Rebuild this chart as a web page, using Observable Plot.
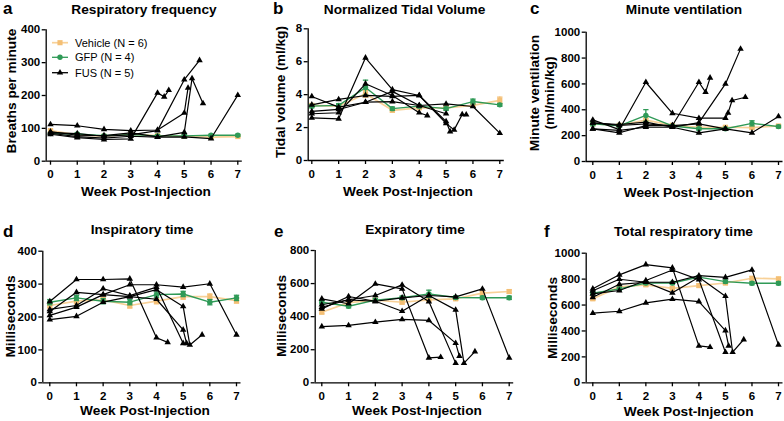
<!DOCTYPE html>
<html><head><meta charset="utf-8">
<script src="https://cdn.jsdelivr.net/npm/d3@7"></script>
<script src="https://cdn.jsdelivr.net/npm/@observablehq/plot@0.6"></script>
<style>
body{margin:0;background:#fff;}
#fig{position:relative;width:784px;height:421px;overflow:hidden;background:#fff;font-family:"Liberation Sans",Arial,sans-serif;}
.panel{position:absolute;}
</style></head><body><div id="fig"></div>
<script>
// ---------- data ----------
const weeks = [0,1,2,3,4,5,6,7];
const legendLabels = ["Vehicle (N = 6)", "GFP (N = 4)", "FUS (N = 5)"];

// a: Respiratory frequency
const ticksA = [0,100,200,300,400];
const vehicleA = [93,80,76,82,78,76,73,75];
const vehicleAErr = [4,3,3,3,3,3,3,3];
const gfpA = [84,83,78,81,77,77,79,79];
const gfpAErr = [3,3,3,3,3,3,3,3];
const fusA = [
  [[0,82],[1,72],[2,66],[3,68],[4,208],[4.25,196],[4.42,216]],
  [[0,87],[1,84],[2,76],[3,80],[4,93],[5,248],[5.57,307]],
  [[0,90],[1,79],[2,78],[3,86],[4,74],[5,88],[5.29,252],[5.7,176]],
  [[0,85],[1,75],[2,70],[3,76],[4,73],[5,74],[6,69],[7,201]],
  [[0,112],[1,108],[2,97],[3,93],[4,95],[5,147],[5.14,223]]
];

// b: Normalized tidal volume
const ticksB = [0,2,4,6,8];
const vehicleB = [3.35,3.3,4.05,3.05,3.2,3.2,3.35,3.65];
const vehicleBErr = [0.1,0.1,0.2,0.1,0.1,0.1,0.1,0.2];
const gfpB = [3.3,3.35,4.43,3.15,3.3,3.15,3.58,3.38];
const gfpBErr = [0.1,0.1,0.45,0.1,0.1,0.1,0.15,0.08];
const fusB = [
  [[0,2.84],[1,2.90],[2,4.66],[3,3.95],[4,2.90],[4.3,2.73]],
  [[0,3.38],[1,3.71],[2,3.95],[3,3.89],[4,3.95],[5,2.25],[5.3,1.86],[5.6,2.8],[5.75,2.78]],
  [[0,2.98],[1,3.10],[2,3.54],[3,3.58],[4,3.34],[5,2.84]],
  [[0,3.89],[1,3.24],[2,3.54],[3,4.2],[4,3.34],[5,3.44],[6,3.28],[7,1.66]],
  [[0,2.59],[1,2.53],[2,6.24],[3,4.31],[4,3.95],[5,2.37],[5.15,1.76]]
];

// c: Minute ventilation
const ticksC = [0,200,400,600,800,1000];
const vehicleC = [292,280,320,280,265,265,262,275];
const vehicleCErr = [10,10,15,10,10,10,10,10];
const gfpC = [291,276,356,275,253,253,295,270];
const gfpCErr = [15,10,45,10,10,10,20,10];
const fusC = [
  [[0,253],[1,222],[2,278],[3,278],[4,613],[4.25,536],[4.42,647]],
  [[0,299],[1,286],[2,304],[3,265],[4,300],[5,600],[5.57,871]],
  [[0,299],[1,280],[2,290],[3,278],[4,291],[5,253]],
  [[0,253],[1,240],[2,265],[3,265],[4,222],[5,253],[6,222],[7,348]],
  [[0,322],[1,247],[2,613],[3,373],[4,335],[5,335],[5.1,376],[5.25,472],[5.75,497]]
];

// d: Inspiratory time
const ticksD = [0,100,200,300,400];
const vehicleD = [235,248,252,235,248,262,262,250];
const vehicleDErr = [8,8,8,8,8,8,8,8];
const gfpD = [245,258,248,245,268,270,245,258];
const gfpDErr = [8,8,8,8,8,8,8,8];
const fusD = [
  [[0,247],[1,314],[2,314],[3,316],[4,137],[4.42,123]],
  [[0,223],[1,235],[2,286],[3,265],[4,291],[5,120]],
  [[0,205],[1,230],[2,268],[3,262],[4,283],[5,232],[5.25,115],[5.71,146]],
  [[0,217],[1,275],[2,268],[3,298],[4,298],[5,291],[6,301],[7,146]],
  [[0,192],[1,202],[2,245],[3,262],[4,254],[5,161],[5.13,120]]
];

// e: Expiratory time
const ticksE = [0,200,400,600,800];
const vehicleE = [427,485,500,487,502,508,542,552];
const vehicleEErr = [10,10,10,10,10,10,10,10];
const gfpE = [487,463,500,514,538,516,514,514];
const gfpEErr = [10,10,10,10,22,10,10,10];
const fusE = [
  [[0,508],[1,478],[2,598],[3,568],[4,151],[4.44,155]],
  [[0,472],[1,502],[2,528],[3,592],[4,491],[5,119]],
  [[0,447],[1,522],[2,493],[3,433],[4,528],[5,441],[5.31,119],[5.72,189]],
  [[0,457],[1,502],[2,493],[3,514],[4,528],[5,520],[6,568],[7,151]],
  [[0,340],[1,347],[2,367],[3,383],[4,377],[5,240],[5.14,161]]
];

// f: Total respiratory time
const ticksF = [0,200,400,600,800,1000];
const vehicleF = [648,740,756,729,750,770,807,802];
const vehicleFErr = [12,12,12,12,12,12,12,12];
const gfpF = [691,725,770,770,815,781,768,768];
const gfpFErr = [12,12,12,12,12,12,12,12];
const fusF = [
  [[0,725],[1,833],[2,912],[3,887],[4,285],[4.42,275]],
  [[0,686],[1,712],[2,789],[3,870],[4,796],[5,236]],
  [[0,660],[1,760],[2,776],[3,694],[4,815],[5,668],[5.27,236],[5.69,334]],
  [[0,710],[1,799],[2,776],[3,776],[4,827],[5,814],[6,871],[7,293]],
  [[0,537],[1,552],[2,617],[3,645],[4,627],[5,403],[5.12,285]]
];

// ---------- styling / layout ----------
const vehColor = "#f4bf74", vehLine = "#f8d198", gfpColor = "#2f9a57";
const FONT = '"Liberation Sans", Arial, sans-serif';

const panels = [
  {letter:"a", title:"Respiratory frequency", ytitle:["Breaths per minute"], yMax:400, ticks:ticksA,
   veh:vehicleA, vehErr:vehicleAErr, gfp:gfpA, gfpErr:gfpAErr, fus:fusA,
   box:{left:0,top:0,w:262,h:210}, px:{w0:50,w7:237.3,axL:45.7,y0:160.7,yT:29.3},
   tx:{letter:[3,14], title:[144,14], xt:[146,196], yt:[[16,91]]}},
  {letter:"b", title:"Normalized Tidal Volume", ytitle:["Tidal volume (ml/kg)"], yMax:8, ticks:ticksB,
   veh:vehicleB, vehErr:vehicleBErr, gfp:gfpB, gfpErr:gfpBErr, fus:fusB,
   box:{left:262,top:0,w:262,h:210}, px:{w0:311.3,w7:499.3,axL:307.7,y0:160,yT:28.3},
   tx:{letter:[273,14], title:[404.5,14], xt:[408,196], yt:[[284.5,92]]}},
  {letter:"c", title:"Minute ventilation", ytitle:["Minute ventilation","(ml/min/kg)"], yMax:1000, ticks:ticksC,
   veh:vehicleC, vehErr:vehicleCErr, gfp:gfpC, gfpErr:gfpCErr, fus:fusC,
   box:{left:524,top:0,w:260,h:210}, px:{w0:592.3,w7:778,axL:585.7,y0:161,yT:31.7},
   tx:{letter:[530,14], title:[684,14], xt:[688.7,197], yt:[[539,93],[553.5,93]]}},
  {letter:"d", title:"Inspiratory time", ytitle:["Milliseconds"], yMax:400, ticks:ticksD,
   veh:vehicleD, vehErr:vehicleDErr, gfp:gfpD, gfpErr:gfpDErr, fus:fusD,
   box:{left:0,top:210,w:262,h:211}, px:{w0:49.3,w7:236,axL:42.3,y0:382.3,yT:250.7},
   tx:{letter:[3,237], title:[142,234], xt:[145,415], yt:[[14.5,316.5]]}},
  {letter:"e", title:"Expiratory time", ytitle:["Milliseconds"], yMax:800, ticks:ticksE,
   veh:vehicleE, vehErr:vehicleEErr, gfp:gfpE, gfpErr:gfpEErr, fus:fusE,
   box:{left:262,top:210,w:262,h:211}, px:{w0:321.3,w7:508.7,axL:314.7,y0:382.3,yT:250},
   tx:{letter:[274,237], title:[415,234], xt:[417,415], yt:[[286,316]]}},
  {letter:"f", title:"Total respiratory time", ytitle:["Milliseconds"], yMax:1000, ticks:ticksF,
   veh:vehicleF, vehErr:vehicleFErr, gfp:gfpF, gfpErr:gfpFErr, fus:fusF,
   box:{left:524,top:210,w:260,h:211}, px:{w0:592.3,w7:778,axL:585.7,y0:382.3,yT:252.7},
   tx:{letter:[544,237], title:[683.5,236], xt:[688.7,416], yt:[[556.5,318]]}}
];

const fig = document.getElementById("fig");

for (const p of panels) {
  const {left, top, w, h} = p.box;
  const {w0, w7, axL, y0, yT} = p.px;
  const wk = (w7 - w0) / 7;
  const xmin = (axL - w0) / wk;
  const rightPx = w7 + 4.5;
  const xmax = 7 + 4.5 / wk;

  const vehRows = weeks.map((wv, i) => ({week: wv, value: p.veh[i], err: p.vehErr[i]}));
  const gfpRows = weeks.map((wv, i) => ({week: wv, value: p.gfp[i], err: p.gfpErr[i]}));
  const fusRows = p.fus.flatMap((pts, k) => pts.map(([wv, v]) => ({animal: k, week: wv, value: v})));

  const errMarks = (rows, color) => [
    Plot.ruleX(rows, {x: "week", y1: d => d.value - d.err, y2: d => d.value + d.err, stroke: color, strokeWidth: 1.3}),
    Plot.link(rows, {x1: d => d.week - 0.1, x2: d => d.week + 0.1, y1: d => d.value + d.err, y2: d => d.value + d.err, stroke: color, strokeWidth: 1.3}),
    Plot.link(rows, {x1: d => d.week - 0.1, x2: d => d.week + 0.1, y1: d => d.value - d.err, y2: d => d.value - d.err, stroke: color, strokeWidth: 1.3})
  ];

  const chart = Plot.plot({
    width: w, height: h,
    marginLeft: axL - left,
    marginRight: left + w - rightPx,
    marginTop: yT - top,
    marginBottom: top + h - y0,
    style: {background: "transparent", overflow: "visible", fontFamily: FONT, fontSize: "11.5px", fontWeight: "bold", color: "black"},
    x: {domain: [xmin, xmax]},
    y: {domain: [0, p.yMax]},
    marks: [
      Plot.axisX({ticks: weeks, tickSize: 4, tickPadding: 5, strokeWidth: 1.3, tickFormat: d => String(d), label: null}),
      Plot.axisY({ticks: p.ticks, tickSize: 4, tickPadding: 2, strokeWidth: 1.3, tickFormat: d => String(d), label: null}),
      Plot.ruleY([0], {stroke: "black", strokeWidth: 1.3}),
      Plot.ruleX([xmin], {stroke: "black", strokeWidth: 1.3}),
      ...errMarks(vehRows, vehColor),
      Plot.line(vehRows, {x: "week", y: "value", stroke: vehLine, strokeWidth: 1.7}),
      Plot.dot(vehRows, {x: "week", y: "value", symbol: "square", fill: vehColor, r: 2.9}),
      ...errMarks(gfpRows, gfpColor),
      Plot.line(gfpRows, {x: "week", y: "value", stroke: gfpColor, strokeWidth: 1.4}),
      Plot.dot(gfpRows, {x: "week", y: "value", symbol: "circle", fill: gfpColor, r: 2.7}),
      Plot.line(fusRows, {x: "week", y: "value", z: "animal", stroke: "black", strokeWidth: 1.2}),
      Plot.dot(fusRows, {x: "week", y: "value", symbol: "triangle", fill: "black", r: 2.4})
    ]
  });
  const holder = document.createElement("div");
  holder.className = "panel";
  holder.style.left = left + "px";
  holder.style.top = top + "px";
  holder.appendChild(chart);
  fig.appendChild(holder);
}

// ---------- text overlay (titles, letters, axis titles, legend) ----------
const ov = d3.select(fig).append("svg")
  .attr("width", 784).attr("height", 421)
  .style("position", "absolute").style("left", "0px").style("top", "0px")
  .style("pointer-events", "none")
  .attr("font-family", FONT);

for (const p of panels) {
  ov.append("text").attr("x", p.tx.letter[0]).attr("y", p.tx.letter[1])
    .attr("font-size", 17).attr("font-weight", "bold").text(p.letter);
  ov.append("text").attr("x", p.tx.title[0]).attr("y", p.tx.title[1])
    .attr("text-anchor", "middle").attr("font-size", 13.7).attr("font-weight", "bold").text(p.title);
  ov.append("text").attr("x", p.tx.xt[0]).attr("y", p.tx.xt[1])
    .attr("text-anchor", "middle").attr("font-size", 13.7).attr("font-weight", "bold").text("Week Post-Injection");
  p.ytitle.forEach((t, i) => {
    const [x, y] = p.tx.yt[i];
    ov.append("text").attr("transform", `translate(${x},${y}) rotate(-90)`)
      .attr("text-anchor", "middle").attr("font-size", 13.7).attr("font-weight", "bold").text(t);
  });
}

// legend in panel a
const legY = [42.7, 57.3, 72.7];
const legColors = [vehLine, gfpColor, "black"];
const legFill = [vehColor, gfpColor, "black"];
const legSym = [d3.symbolSquare, d3.symbolCircle, d3.symbolTriangle];
const legSize = [Math.PI*2.9*2.9, Math.PI*2.7*2.7, Math.PI*2.4*2.4];
legendLabels.forEach((lab, i) => {
  const g = ov.append("g");
  g.append("line").attr("x1", 52).attr("x2", 68).attr("y1", legY[i]).attr("y2", legY[i])
    .attr("stroke", legColors[i]).attr("stroke-width", i === 0 ? 1.7 : 1.3);
  g.append("path").attr("d", d3.symbol(legSym[i], legSize[i])()).attr("transform", `translate(60,${legY[i]})`)
    .attr("fill", legFill[i]);
  g.append("text").attr("x", 75).attr("y", legY[i] + 4).attr("font-size", 11).text(lab);
});
</script></body></html>
